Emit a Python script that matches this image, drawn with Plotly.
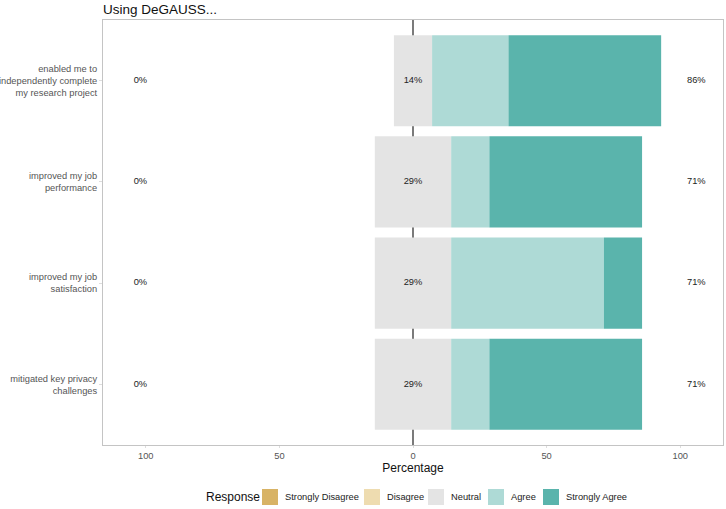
import plotly.graph_objects as go

items = [
    "enabled me to<br>independently complete<br>my research project",
    "improved my job<br>performance",
    "improved my job<br>satisfaction",
    "mitigated key privacy<br>challenges",
]
levels = ["Strongly Disagree", "Disagree", "Neutral", "Agree", "Strongly Agree"]
colors = ["#D8B365", "#EEDCB0", "#E4E4E4", "#AEDAD6", "#5AB4AC"]
strongly_disagree = [0.0, 0.0, 0.0, 0.0]
disagree = [0.0, 0.0, 0.0, 0.0]
neutral = [14.29, 28.57, 28.57, 28.57]
agree = [28.57, 14.29, 57.14, 14.29]
strongly_agree = [57.14, 57.14, 14.29, 57.14]
low_labels = ["0%", "0%", "0%", "0%"]
mid_labels = ["14%", "29%", "29%", "29%"]
high_labels = ["86%", "71%", "71%", "71%"]

# layout geometry (pixels)
W, H = 726, 509
L, R, T, B = 103, 3, 20, 64
PW, PH = W - L - R, H - T - B


def px_x(px):
    return (px - L) / PW


def px_y(py):
    return (H - B - py) / PH


fig = go.Figure()
n = len(items)
half = [v / 2 for v in neutral]
bases = {
    "Strongly Disagree": [-(h + d + s) for h, d, s in zip(half, disagree, strongly_disagree)],
    "Disagree": [-(h + d) for h, d in zip(half, disagree)],
    "Neutral": [-h for h in half],
    "Agree": half,
    "Strongly Agree": [h + a for h, a in zip(half, agree)],
}
lengths = {
    "Strongly Disagree": strongly_disagree,
    "Disagree": disagree,
    "Neutral": neutral,
    "Agree": agree,
    "Strongly Agree": strongly_agree,
}
for lev, col in zip(levels, colors):
    fig.add_trace(go.Bar(
        y=items, x=lengths[lev], base=bases[lev], orientation="h",
        name=lev, marker=dict(color=col, line=dict(width=0)),
        width=0.9, hoverinfo="skip", showlegend=False,
    ))

lab_font = dict(size=9.3, color="#222", family="Liberation Sans, Arial, sans-serif")
fig.add_trace(go.Scatter(x=[-102] * n, y=items, text=low_labels, mode="text",
                         textfont=lab_font, showlegend=False, hoverinfo="skip"))
fig.add_trace(go.Scatter(x=[0] * n, y=items, text=mid_labels, mode="text",
                         textfont=lab_font, showlegend=False, hoverinfo="skip"))
fig.add_trace(go.Scatter(x=[106] * n, y=items, text=high_labels, mode="text",
                         textfont=lab_font, showlegend=False, hoverinfo="skip"))

fig.add_shape(type="line", x0=0, x1=0, y0=0, y1=1, xref="x", yref="paper",
              line=dict(color="#222", width=1.2), layer="below")

# manual legend
leg_y = 497
fig.add_annotation(text="Response", x=px_x(204), y=px_y(leg_y), xref="paper", yref="paper",
                   xanchor="left", yanchor="middle", showarrow=False,
                   font=dict(size=12, color="#111"))
sw_left = [262, 364, 428, 488, 543]
for lev, col, sx in zip(levels, colors, sw_left):
    fig.add_shape(type="rect", xref="paper", yref="paper",
                  x0=px_x(sx), x1=px_x(sx + 16), y0=px_y(leg_y + 8), y1=px_y(leg_y - 8),
                  fillcolor=col, line=dict(width=0))
    fig.add_annotation(text=lev, x=px_x(sx + 21), y=px_y(leg_y), xref="paper", yref="paper",
                       xanchor="left", yanchor="middle", showarrow=False,
                       font=dict(size=9.3, color="#222"))

fig.update_layout(
    width=W, height=H,
    margin=dict(l=L, r=R, t=T, b=B),
    paper_bgcolor="white", plot_bgcolor="white",
    barmode="overlay",
    showlegend=False,
    font=dict(family="Liberation Sans, Arial, sans-serif", color="#222"),
    title=dict(text="Using DeGAUSS...", x=0, xanchor="left", xref="paper",
               y=1 - 9 / H, yanchor="middle", yref="container", automargin=False,
               font=dict(size=13.5, color="#111")),
    xaxis=dict(range=[-116, 116], tickvals=[-100, -50, 0, 50, 100],
               ticktext=["100", "50", "0", "50", "100"], automargin=False,
               tickfont=dict(size=9.3, color="#555"), showgrid=False, zeroline=False,
               showline=True, linecolor="#c4c4c4", linewidth=1, mirror=True,
               ticks="outside", ticklen=2, tickcolor="#dddddd",
               title=dict(text="Percentage", font=dict(size=12, color="#111"), standoff=1)),
    yaxis=dict(categoryorder="array", categoryarray=items[::-1], range=[-0.6, 3.6],
               automargin=False,
               tickfont=dict(size=9.3, color="#555"), showgrid=False, zeroline=False,
               showline=True, linecolor="#c4c4c4", linewidth=1, mirror=True,
               ticks="outside", ticklen=3, tickcolor="#dddddd"),
)

fig.write_html("out.html", config={"displayModeBar": False},
               post_script="document.body.style.margin='0';document.body.style.overflow='hidden';")
